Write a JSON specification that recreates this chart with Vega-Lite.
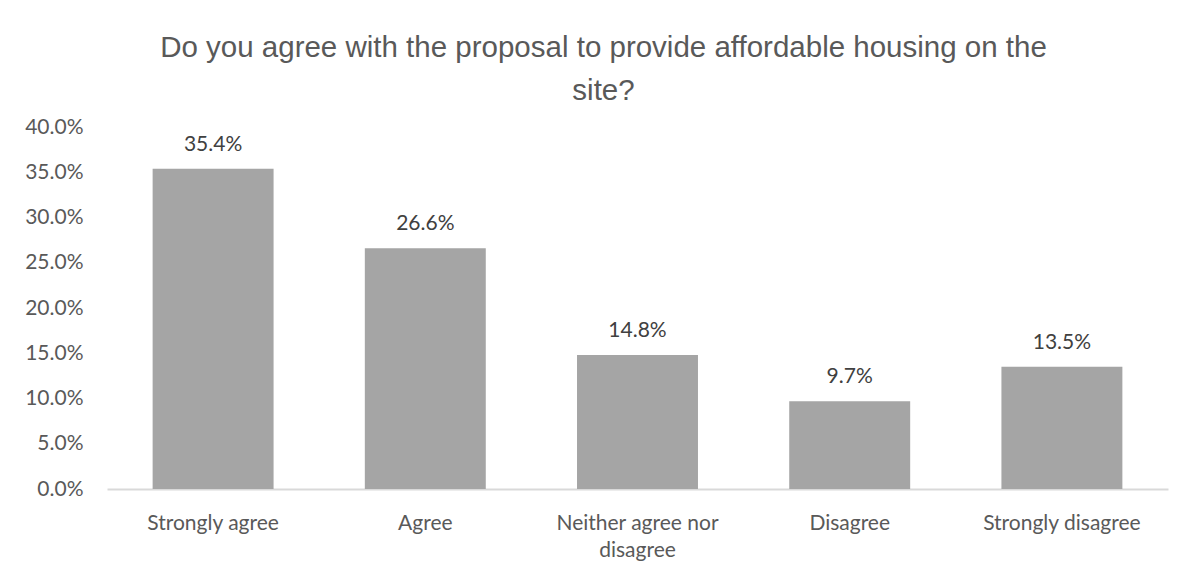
{
  "$schema": "https://vega.github.io/schema/vega-lite/v6.json",
  "autosize": {"type": "none"},
  "width": 1061,
  "height": 362,
  "padding": {"left": 107, "top": 127, "right": 23, "bottom": 89},
  "background": "white",
  "config": {"view": {"stroke": null}},
  "title": {
    "text": ["Do you agree with the proposal to provide affordable housing on the", "site?"],
    "font": "Liberation Sans",
    "fontSize": 29.5,
    "fontWeight": "normal",
    "color": "#595959",
    "anchor": "middle",
    "offset": 10,
    "lineHeight": 43,
    "dx": -34
  },
  "data": {
    "values": [
      {"response": "Strongly agree", "share": 0.354},
      {"response": "Agree", "share": 0.266},
      {"response": "Neither agree nor disagree", "share": 0.148},
      {"response": "Disagree", "share": 0.097},
      {"response": "Strongly disagree", "share": 0.135}
    ]
  },
  "encoding": {
    "x": {
      "field": "response",
      "type": "nominal",
      "sort": null,
      "scale": {"paddingInner": 0.43, "paddingOuter": 0.215},
      "axis": {
        "title": null,
        "labelAngle": 0,
        "labelFont": "Lato",
        "labelFontSize": 21,
        "labelColor": "#595959",
        "labelPadding": 40,
        "labelLineHeight": 27,
        "labelBaseline": "alphabetic",
        "labelExpr": "datum.label == 'Neither agree nor disagree' ? ['Neither agree nor', 'disagree'] : datum.label",
        "ticks": false,
        "domainColor": "#d9d9d9",
        "domainWidth": 2,
        "grid": false
      }
    },
    "y": {
      "field": "share",
      "type": "quantitative",
      "scale": {"domain": [0, 0.4], "nice": false},
      "axis": {
        "title": null,
        "format": ".1%",
        "values": [0, 0.05, 0.1, 0.15, 0.2, 0.25, 0.3, 0.35, 0.4],
        "labelFont": "Lato",
        "labelFontSize": 21,
        "labelColor": "#595959",
        "labelPadding": 24,
        "ticks": false,
        "domain": false,
        "grid": false
      }
    }
  },
  "layer": [
    {"mark": {"type": "bar", "color": "#a5a5a5"}},
    {
      "mark": {"type": "text", "font": "Lato", "fontSize": 21, "color": "#404040", "baseline": "alphabetic", "dy": -18},
      "encoding": {"text": {"field": "share", "type": "quantitative", "format": ".1%"}}
    }
  ]
}
